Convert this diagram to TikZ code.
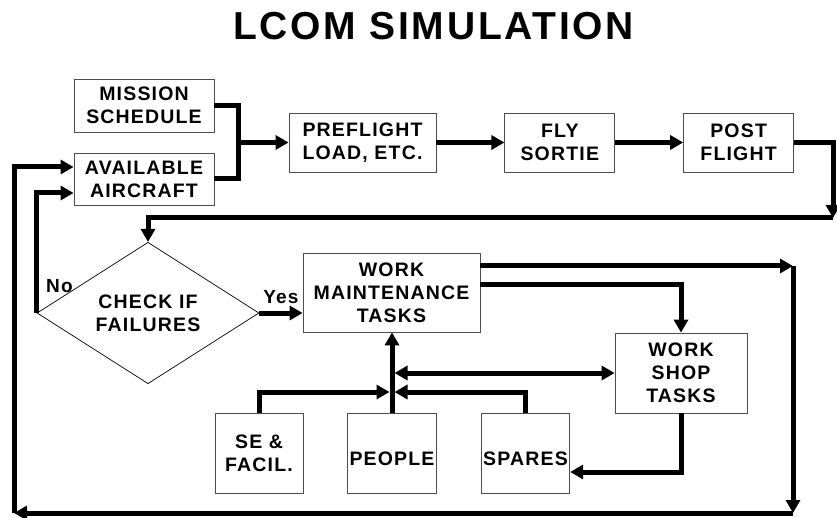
\documentclass[tikz,border=0pt]{standalone}
\usepackage{fontspec}
\setmainfont{Liberation Sans}[LetterSpace=6]
\newfontfamily\titlefont{Liberation Sans}[LetterSpace=7]
\usepackage{tikz}
\usetikzlibrary{positioning,shapes.geometric,arrows.meta}
\tikzset{blk/.style={draw=black!70,line width=0.8pt,align=center,inner sep=2pt,font=\fontsize{19.5}{23}\selectfont\bfseries},
	 dec/.style={diamond,draw,line width=0.7pt,align=center,inner sep=0pt,minimum width=222pt,minimum height=120pt,font=\fontsize{19.5}{23}\selectfont\bfseries},
	 lbl/.style={inner sep=1pt,font=\fontsize{19}{22}\selectfont\bfseries},
	 lowtext/.style={text height=26pt},
	 wire/.style={line width=5pt},
	 flow/.style={wire,-{Triangle[length=13pt,width=14pt]}},
	 both/.style={wire,{Triangle[length=13pt,width=14pt]}-{Triangle[length=13pt,width=14pt]}},
	 node distance = 68pt
	 }

\begin{document}
\begin{tikzpicture}[x=1pt,y=-1pt] % LCOM flow
	\useasboundingbox (0,0) rectangle (837,518);
	\node[font=\titlefont\fontsize{39}{45}\selectfont\bfseries] (title) at (433.5,26) {LCOM SIMULATION};
	\node[blk,minimum width=140pt,minimum height=53pt] (mis) at (144,105.5) {MISSION\\SCHEDULE};
	\node[blk,minimum width=140pt,minimum height=52pt] (avail) at (144,179) {AVAILABLE\\AIRCRAFT};
	\node[blk,minimum width=147pt,minimum height=59pt] (pre) at (362.5,142.5) {PREFLIGHT\\LOAD, ETC.};
	\node[blk,minimum width=110pt,minimum height=59pt] (fly) [right=of pre] {FLY\\SORTIE};
	\node[blk,minimum width=110pt,minimum height=59pt] (post) [right=of fly] {POST\\FLIGHT};
	\node[dec] (chk) at (148,313) {CHECK IF\\FAILURES};
	\node[blk,minimum width=177pt,minimum height=79pt] (wm) at (391.5,292.5) {WORK\\MAINTENANCE\\TASKS};
	\node[blk,minimum width=132pt,minimum height=80pt] (shop) at (681,373) {WORK\\SHOP\\TASKS};
	\node[blk,minimum width=88pt,minimum height=80pt] (se) at (259,453) {SE \&\\FACIL.};
	\node[blk,lowtext,minimum width=88pt,minimum height=80pt] (ppl) at (392,453) {PEOPLE};
	\node[blk,lowtext,minimum width=87pt,minimum height=80pt] (spr) at (525.5,453) {SPARES};
	\node[lbl,anchor=base west] (no) at (45,293) {No};
	\coordinate (j1) at (238,142.5);
	\coordinate (c1) at (833,218);
	\coordinate (c2) at (793,266); \coordinate (c3) at (793,513); \coordinate (c4) at (14,513);
	\coordinate (j2) at (ppl.north |- shop.west); \coordinate (j3) at (392,392);
	\draw[wire] (mis.east) -| (j1) |- (avail.east); \draw[flow] (j1) to (pre.west);
	\draw[flow] (pre) to (fly); \draw[flow] (fly) to (post);
	\draw[flow] (post.east) -| (c1); \draw[flow] (c1) -| (chk.north);
	\draw[flow] (chk.east) -- (chk.east -| wm.west) node[lbl,midway,above=6pt] {Yes};
	\draw[flow] (chk.west) |- ([yshift=-14pt]avail.west);
	\draw[flow] ([yshift=26.5pt]wm.east) -- (c2); \draw[flow] (c2) -- (c3);
	\draw[flow] (c3) -- (c4); \draw[flow] (c4) |- ([yshift=12pt]avail.west);
	\draw[flow] ([yshift=7.5pt]wm.east) -| (shop.north);
	\draw[flow] (shop.south) |- ([yshift=-19pt]spr.east);
	\draw[flow] (ppl.north) -- (ppl.north |- wm.south);
	\draw[both,shorten <=2.5pt] (j2) -- (shop.west);
	\draw[flow,shorten >=2.5pt] (se.north) |- (j3); \draw[flow,shorten >=2.5pt] (spr.north) |- (j3);
\end{tikzpicture}
\end{document}
